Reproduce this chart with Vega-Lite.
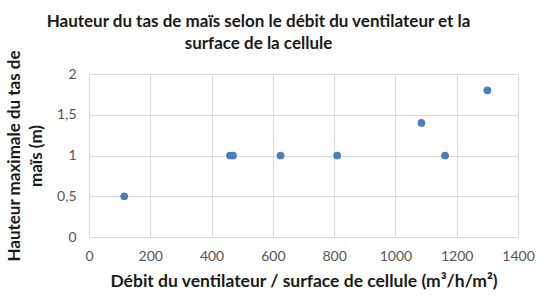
{
  "$schema": "https://vega.github.io/schema/vega-lite/v6.json",
  "autosize": "none",
  "width": 429,
  "height": 163,
  "padding": {"left": 89, "top": 74, "right": 22, "bottom": 63},
  "background": "white",
  "title": {
    "text": ["Hauteur du tas de maïs selon le débit du ventilateur et la", "surface de la cellule"],
    "font": "Lato",
    "fontSize": 17,
    "fontWeight": "bold",
    "color": "#1a1a1a",
    "lineHeight": 22,
    "anchor": "middle",
    "dx": -45,
    "offset": -3
  },
  "data": {
    "values": [
      {"debit": 115, "hauteur": 0.5},
      {"debit": 460, "hauteur": 1},
      {"debit": 470, "hauteur": 1},
      {"debit": 625, "hauteur": 1},
      {"debit": 810, "hauteur": 1},
      {"debit": 1085, "hauteur": 1.4},
      {"debit": 1162, "hauteur": 1},
      {"debit": 1300, "hauteur": 1.8}
    ]
  },
  "mark": {"type": "point", "filled": true, "opacity": 1, "size": 60, "color": "#4a7ebb"},
  "encoding": {
    "x": {
      "field": "debit",
      "type": "quantitative",
      "scale": {"domain": [0, 1400], "nice": false, "zero": true},
      "axis": {
        "values": [0, 200, 400, 600, 800, 1000, 1200, 1400],
        "format": "d",
        "title": "Débit du ventilateur / surface de cellule (m³/h/m²)",
        "titleFont": "Lato",
        "titleFontSize": 17.5,
        "titleFontWeight": "bold",
        "titleColor": "#1a1a1a",
        "titlePadding": 9,
        "labelFont": "Lato",
        "labelFontSize": 14,
        "labelColor": "#555555",
        "labelPadding": 12,
        "ticks": false,
        "domainColor": "#d9d9d9",
        "gridColor": "#d9d9d9",
        "labelFlush": false
      }
    },
    "y": {
      "field": "hauteur",
      "type": "quantitative",
      "scale": {"domain": [0, 2], "nice": false},
      "axis": {
        "values": [0, 0.5, 1, 1.5, 2],
        "labelExpr": "replace(format(datum.value, '~g'), '.', ',')",
        "title": ["Hauteur maximale du tas de", "maïs (m)"],
        "titleFont": "Lato",
        "titleFontSize": 17,
        "titleFontWeight": "bold",
        "titleColor": "#1a1a1a",
        "titleLineHeight": 22,
        "titlePadding": 11,
        "labelFont": "Lato",
        "labelFontSize": 14,
        "labelColor": "#555555",
        "labelPadding": 13,
        "ticks": false,
        "domainColor": "#d9d9d9",
        "gridColor": "#d9d9d9"
      }
    }
  },
  "config": {"view": {"stroke": null}}
}
